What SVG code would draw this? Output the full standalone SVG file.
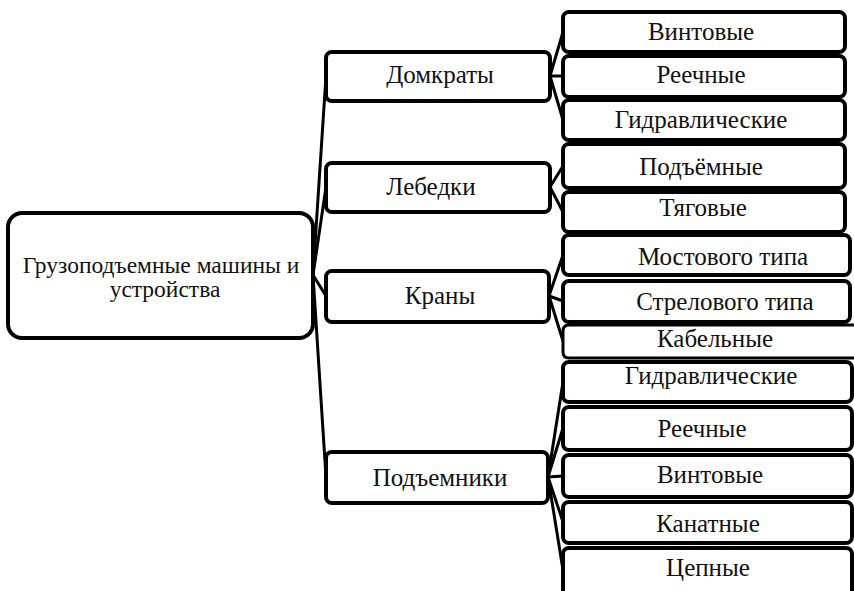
<svg xmlns="http://www.w3.org/2000/svg" width="854" height="591" viewBox="0 0 854 591">
<style>
.box{fill:#fff;stroke:#000;stroke-width:4}
.t{font-family:"Liberation Serif","Times New Roman",serif;font-size:25px;fill:#111;text-anchor:middle}
.r{font-size:23.5px}
.c{stroke:#000;stroke-width:3;fill:none;stroke-linecap:round}
</style>
<rect width="854" height="591" fill="#fff"/>
<g id="connectors">
<line class="c" x1="313" y1="275" x2="326" y2="76"/>
<line class="c" x1="313" y1="275" x2="326" y2="187"/>
<line class="c" x1="313" y1="275" x2="326" y2="296"/>
<line class="c" x1="313" y1="275" x2="326" y2="477"/>
<line class="c" x1="550" y1="76" x2="563" y2="32"/>
<line class="c" x1="550" y1="76" x2="563" y2="76"/>
<line class="c" x1="550" y1="76" x2="563" y2="120"/>
<line class="c" x1="550" y1="187" x2="563" y2="166"/>
<line class="c" x1="550" y1="187" x2="563" y2="212"/>
<line class="c" x1="549" y1="296" x2="563" y2="255"/>
<line class="c" x1="549" y1="296" x2="563" y2="301"/>
<line class="c" x1="549" y1="296" x2="563" y2="341"/>
<line class="c" x1="548" y1="477" x2="563" y2="382"/>
<line class="c" x1="548" y1="477" x2="563" y2="428"/>
<line class="c" x1="548" y1="477" x2="563" y2="476"/>
<line class="c" x1="548" y1="477" x2="563" y2="522"/>
<line class="c" x1="548" y1="477" x2="563" y2="570"/>
</g>
<g id="root"><rect class="box" x="8" y="213" width="305" height="125" rx="14"/>
<text class="t r" x="161" y="273">Грузоподъемные машины и</text>
<text class="t r" x="165" y="297">устройства</text></g>
<g id="domkraty"><rect class="box" x="326" y="52" width="224" height="49" rx="6"/><text class="t" x="440" y="83">Домкраты</text></g>
<g id="lebedki"><rect class="box" x="326" y="163" width="224" height="49" rx="6"/><text class="t" x="431" y="195">Лебедки</text></g>
<g id="krany"><rect class="box" x="326" y="271" width="223" height="51" rx="6"/><text class="t" x="440" y="304">Краны</text></g>
<g id="podemniki"><rect class="box" x="326" y="452" width="222" height="51" rx="6"/><text class="t" x="440" y="486">Подъемники</text></g>
<g id="d-vint"><rect class="box" x="563" y="12" width="282" height="40" rx="6"/><text class="t" x="701" y="40">Винтовые</text></g>
<g id="d-reech"><rect class="box" x="563" y="56" width="282" height="41" rx="6"/><text class="t" x="701" y="83">Реечные</text></g>
<g id="d-gidr"><rect class="box" x="563" y="100" width="282" height="40" rx="6"/><text class="t" x="701" y="128">Гидравлические</text></g>
<g id="l-podem"><rect class="box" x="563" y="144" width="282" height="44" rx="6"/><text class="t" x="701" y="175">Подъёмные</text></g>
<g id="l-tyag"><rect class="box" x="563" y="192" width="282" height="40" rx="6"/><text class="t" x="703" y="216">Тяговые</text></g>
<g id="k-most"><rect class="box" x="563" y="235" width="287" height="40" rx="6"/><text class="t" x="723" y="265">Мостового типа</text></g>
<g id="k-strel"><rect class="box" x="563" y="281" width="287" height="41" rx="6"/><text class="t" x="725" y="310">Стрелового типа</text></g>
<g id="k-kab"><path d="M856,325 H569 Q563,325 563,331 V352 Q563,358 569,358 H856" fill="#fff" stroke="#000" stroke-width="3"/><text class="t" x="715" y="347">Кабельные</text></g>
<g id="p-gidr"><rect class="box" x="563" y="362" width="289" height="40" rx="6"/><text class="t" x="711" y="384">Гидравлические</text></g>
<g id="p-reech"><rect class="box" x="563" y="407" width="289" height="43" rx="6"/><text class="t" x="702" y="437">Реечные</text></g>
<g id="p-vint"><rect class="box" x="563" y="455" width="289" height="42" rx="6"/><text class="t" x="710" y="483">Винтовые</text></g>
<g id="p-kanat"><rect class="box" x="563" y="502" width="289" height="41" rx="6"/><text class="t" x="708" y="532">Канатные</text></g>
<g id="p-tsep"><rect class="box" x="563" y="548" width="289" height="60" rx="6"/><text class="t" x="708" y="576">Цепные</text></g>
</svg>
